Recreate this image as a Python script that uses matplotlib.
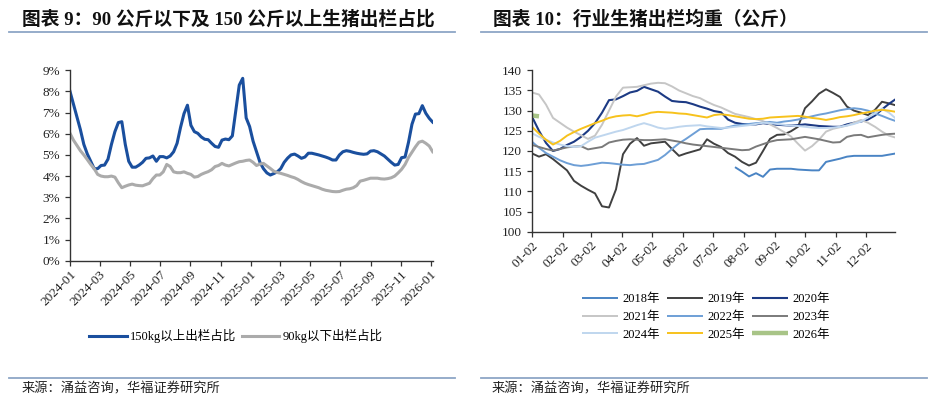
import matplotlib
matplotlib.use('Agg')
import matplotlib.pyplot as plt
import matplotlib.dates as mdates
from matplotlib.lines import Line2D
import pandas as pd

# 字体：数字用衬线体，中文回落到思源黑体
SERIF = ['Liberation Serif', 'Noto Sans CJK SC']
plt.rcParams['font.family'] = SERIF
plt.rcParams['axes.unicode_minus'] = False

# ---------------- 图表9 数据（周度，2024-01-01 起） ----------------
left_start = '2024-01-01'
over150 = [8.0, 7.4, 6.8, 6.2, 5.5, 5.05, 4.7, 4.35, 4.35, 4.5,
           4.52, 4.8, 5.5, 6.1, 6.53, 6.57, 5.5, 4.7, 4.42, 4.42,
           4.52, 4.65, 4.84, 4.86, 4.95, 4.7, 4.92, 4.92, 4.86, 4.95,
           5.15, 5.55, 6.3, 6.95, 7.35, 6.4, 6.1, 6.02, 5.85, 5.74,
           5.72, 5.55, 5.4, 5.36, 5.7, 5.75, 5.72, 5.9, 7.1, 8.3,
           8.62, 6.75, 6.34, 5.65, 5.15, 4.65, 4.35, 4.15, 4.05, 4.12,
           4.2, 4.35, 4.65, 4.85, 5.0, 5.04, 4.95, 4.84, 4.9, 5.08,
           5.08, 5.04, 5.0, 4.95, 4.9, 4.84, 4.76, 4.76, 5.0, 5.15,
           5.2, 5.17, 5.12, 5.08, 5.05, 5.03, 5.05, 5.18, 5.2, 5.15,
           5.05, 4.95, 4.8, 4.65, 4.52, 4.55, 4.87, 4.9, 5.6, 6.45,
           6.93, 6.95, 7.33, 6.97, 6.73, 6.55]
under90 = [6.02, 5.7, 5.45, 5.2, 5.0, 4.78, 4.55, 4.35, 4.08, 4.0,
           3.97, 3.97, 4.0, 3.95, 3.68, 3.45, 3.52, 3.58, 3.62, 3.57,
           3.55, 3.54, 3.6, 3.66, 3.88, 4.05, 4.05, 4.2, 4.55, 4.45,
           4.2, 4.16, 4.16, 4.2, 4.13, 4.08, 3.95, 3.98, 4.08, 4.15,
           4.21, 4.3, 4.45, 4.5, 4.6, 4.52, 4.48, 4.55, 4.62, 4.68,
           4.7, 4.74, 4.76, 4.65, 4.5, 4.57, 4.6, 4.48, 4.36, 4.23,
           4.17, 4.13, 4.08, 4.03, 3.97, 3.92, 3.84, 3.74, 3.66, 3.6,
           3.55, 3.5, 3.45, 3.38, 3.33, 3.3, 3.27, 3.26, 3.27, 3.33,
           3.38, 3.4, 3.45, 3.55, 3.76, 3.8, 3.85, 3.9, 3.9, 3.9,
           3.87, 3.86, 3.88, 3.92, 4.0, 4.15, 4.32, 4.55, 4.88, 5.13,
           5.38, 5.6, 5.65, 5.55, 5.42, 5.15]
left_labels = ['150kg以上出栏占比', '90kg以下出栏占比']

# ---------------- 图表10 数据（周度，01-02 起，年内对比） ----------------
right_start = '2021-01-02'   # 仅作为年内日期轴的参照年
y2018 = [None] * 29 + [116.0, 114.9, 113.7, 114.5, 113.6, 115.4, 115.6, 115.6,
                       115.6, 115.4, 115.3, 115.2, 115.2, 117.3, 117.7, 118.1,
                       118.6, 118.8, 118.8, 118.8, 118.8, 118.8, 119.1, 119.4]
y2019 = [119.4, 118.6, 119.2, 118.0, 116.6, 115.2, 112.6, 111.4, 110.4, 109.5,
         106.3, 106.0, 110.5, 119.2, 121.8, 123.2, 121.3, 121.9, 122.1, 122.3,
         120.5, 118.8, 119.4, 119.9, 120.4, 122.9, 121.8, 121.0, 119.5, 118.6,
         117.3, 116.4, 117.1, 120.0, 123.0, 124.0, 124.1, 124.9, 126.0, 130.6,
         132.3, 134.2, 135.3, 134.4, 133.4, 131.0, 130.0, 129.5, 128.9, 130.2,
         132.2, 131.8, 131.3]
y2020 = [128.5, 125.0, 122.0, 120.0, 120.5, 121.5, 122.3, 123.5, 125.0, 126.9,
         129.5, 132.6, 132.8, 133.6, 134.5, 134.9, 135.9, 135.3, 134.7, 133.5,
         132.4, 132.2, 132.1, 131.6, 131.0, 130.5, 129.9, 129.6, 127.8, 127.0,
         126.7, 126.6, 126.6, 126.9, 126.7, 126.5, 126.4, 126.3, 126.4, 126.6,
         126.4, 126.2, 126.1, 126.0, 126.0, 126.6, 127.0, 127.3, 127.8, 128.8,
         130.3, 131.7, 132.9]
y2021 = [134.5, 134.0, 131.5, 128.2, 127.0, 125.8, 124.8, 123.9, 123.0, 123.8,
         126.5, 130.0, 133.5, 135.7, 135.8, 135.9, 136.3, 136.7, 136.9, 136.8,
         136.0, 135.0, 134.3, 133.6, 133.1, 132.2, 131.4, 130.8, 130.0, 129.2,
         128.8, 128.4, 127.9, 127.4, 126.6, 125.7, 124.7, 123.6, 121.8, 120.1,
         121.2, 122.8, 124.8, 125.5, 125.9, 126.3, 127.0, 127.7, 127.0, 126.0,
         124.8, 123.8, 123.3]
y2022 = [122.3, 120.8, 119.5, 118.6, 117.7, 117.0, 116.5, 116.3, 116.5, 116.8,
         117.1, 117.0, 116.8, 116.6, 116.5, 116.7, 116.8, 117.3, 117.8, 119.0,
         120.5, 121.9, 123.0, 124.2, 125.4, 125.5, 125.5, 125.5, 125.9, 126.3,
         126.5, 126.7, 126.9, 127.0, 127.2, 127.0, 127.3, 127.5, 127.8, 128.2,
         128.6, 129.0, 129.3, 129.7, 130.1, 130.4, 130.6, 130.4, 130.0, 129.3,
         128.7, 128.0, 127.4]
y2023 = [121.5, 121.0, 120.5, 120.1, 120.5, 120.9, 121.1, 121.2, 120.4, 120.7,
         121.0, 122.1, 122.5, 122.8, 122.9, 122.8, 122.7, 122.7, 122.8, 122.9,
         122.6, 122.3, 121.9, 121.6, 121.4, 121.2, 121.0, 120.8, 120.6, 120.4,
         120.2, 120.3, 121.1, 121.7, 122.3, 122.7, 122.8, 122.9, 123.2, 123.5,
         123.2, 122.9, 122.5, 122.1, 122.2, 123.5, 123.9, 124.0, 123.4, 123.7,
         124.0, 124.2, 124.3]
y2024 = [124.4, 123.5, 122.8, 122.1, 121.6, 121.2, 121.0, 121.2, 122.3, 123.3,
         123.8, 124.3, 124.8, 125.2, 125.8, 126.4, 126.9, 126.4, 125.8, 125.5,
         125.7, 126.0, 126.2, 126.3, 126.4, 126.1, 125.9, 125.7, 125.8, 126.0,
         126.2, 126.4, 126.7, 127.0, 126.9, 126.7, 126.5, 126.3, 126.2, 126.0,
         125.8, 125.7, 125.7, 125.8, 126.0, 126.3, 126.7, 127.3, 128.3, 129.3,
         130.5, 129.5, 128.0]
y2025 = [126.0, 124.3, 122.8, 121.6, 122.5, 123.8, 124.7, 125.5, 126.2, 126.9,
         127.5, 128.2, 128.6, 128.8, 128.9, 128.6, 129.0, 129.5, 129.7, 129.6,
         129.5, 129.3, 129.2, 128.9, 128.6, 128.3, 128.9, 129.1, 128.9, 128.6,
         128.3, 128.0, 127.9, 128.0, 128.3, 128.4, 128.5, 128.6, 128.7, 128.5,
         128.2, 128.0, 127.7, 128.0, 128.4, 128.6, 128.9, 129.3, 129.6, 130.0,
         130.2, 130.0, 129.7]
y2026 = [128.8, 128.6]

years = ['2018年', '2019年', '2020年', '2021年', '2022年',
         '2023年', '2024年', '2025年', '2026年']
series = [y2018, y2019, y2020, y2021, y2022, y2023, y2024, y2025, y2026]
colors = ['#4A84C4', '#404040', '#1C3A84', '#C6C6C6', '#6E9FD6',
          '#7A7A7A', '#BFD6EE', '#F7C21C', '#A8C487']
widths = [1.4, 1.4, 1.5, 1.4, 1.4, 1.4, 1.4, 1.4, 3.2]

# ---------------- 画布 ----------------
fig = plt.figure(figsize=(9.36, 4.01), dpi=100)
W, H = 936, 401


def fx(px):
    return px / W


def fy(py):
    return 1 - py / H


def style_axis(ax):
    for s in ['top', 'right']:
        ax.spines[s].set_visible(False)
    for s in ['left', 'bottom']:
        ax.spines[s].set_color('#333333')
        ax.spines[s].set_linewidth(1.0)
    ax.tick_params(axis='both', direction='out', length=3.5, width=0.9,
                   color='#333333', labelsize=9.5, labelcolor='#222222')
    ax.tick_params(axis='x', pad=2)
    for lab in ax.get_xticklabels():
        lab.set_rotation(45)
        lab.set_ha('right')
        lab.set_va('top')
        lab.set_rotation_mode('anchor')


# 标题与分隔线
fig.text(fx(22), fy(19), '图表 9：90 公斤以下及 150 公斤以上生猪出栏占比',
         fontsize=13.5, fontweight='bold', va='center', ha='left', color='#111111')
fig.text(fx(493), fy(19), '图表 10：行业生猪出栏均重（公斤）',
         fontsize=13.5, fontweight='bold', va='center', ha='left', color='#111111')
for x0, x1 in [(9, 455), (481, 927)]:
    fig.add_artist(Line2D([fx(x0), fx(x1)], [fy(31.7), fy(31.7)],
                          transform=fig.transFigure, color='#8DA6C6', lw=1.3))
    fig.add_artist(Line2D([fx(x0), fx(x1)], [fy(377.7), fy(377.7)],
                          transform=fig.transFigure, color='#8DA6C6', lw=1.3))
fig.text(fx(22), fy(389), '来源：涌益咨询，华福证券研究所', fontsize=9.5,
         va='center', ha='left', color='#222222')
fig.text(fx(492), fy(389), '来源：涌益咨询，华福证券研究所', fontsize=9.5,
         va='center', ha='left', color='#222222')

# ---------------- 左图 ----------------
ax1 = fig.add_axes([fx(70), fy(260.7), fx(432.7 - 70), (260.7 - 70.3) / H])
dates_l = pd.date_range(left_start, periods=len(over150), freq='7D')
ax1.plot(dates_l, over150, color='#1A4F9E', lw=2.2, label=left_labels[0])
ax1.plot(dates_l, under90, color='#ABABAB', lw=2.2, label=left_labels[1])
ax1.set_ylim(0, 9)
ax1.set_yticks(range(0, 10))
ax1.set_yticklabels(['%d%%' % v for v in range(0, 10)])
ax1.set_xlim(dates_l[0], dates_l[-1])
ax1.xaxis.set_major_locator(mdates.MonthLocator(bymonth=[1, 3, 5, 7, 9, 11]))
ax1.xaxis.set_major_formatter(mdates.DateFormatter('%Y-%m'))
style_axis(ax1)
fig.legend(handles=ax1.get_lines(), labels=left_labels, loc='center',
           bbox_to_anchor=(fx(236), fy(336)), ncol=2, frameon=False,
           fontsize=9, handlelength=3.0, handletextpad=0.3, columnspacing=0.4)

# ---------------- 右图 ----------------
ax2 = fig.add_axes([fx(532), fy(231.7), fx(895 - 532), (231.7 - 70.3) / H])
dates_r = pd.date_range(right_start, periods=len(y2019), freq='7D')
handles = []
for name, vals, c, w in zip(years, series, colors, widths):
    d = [t for t, v in zip(dates_r, vals) if v is not None]
    v = [v for v in vals if v is not None]
    h, = ax2.plot(d, v, color=c, lw=w, label=name, solid_capstyle='butt')
    handles.append(h)
ax2.set_ylim(100, 140)
ax2.set_yticks(range(100, 141, 5))
ax2.set_xlim(dates_r[0], pd.Timestamp('2021-12-31'))
ax2.xaxis.set_major_locator(mdates.MonthLocator(bymonthday=2))
ax2.xaxis.set_major_formatter(mdates.DateFormatter('%m-%d'))
style_axis(ax2)
# 图例按行排列：legend 按列填充，所以重排顺序
order = [0, 3, 6, 1, 4, 7, 2, 5, 8]
fig.legend(handles=[handles[i] for i in order],
           labels=[years[i] for i in order], loc='center',
           bbox_to_anchor=(fx(706), fy(317)), ncol=3, frameon=False,
           fontsize=9, handlelength=2.9, handletextpad=0.4, columnspacing=0.5,
           labelspacing=0.45)

fig.savefig('out.png', dpi=100)
